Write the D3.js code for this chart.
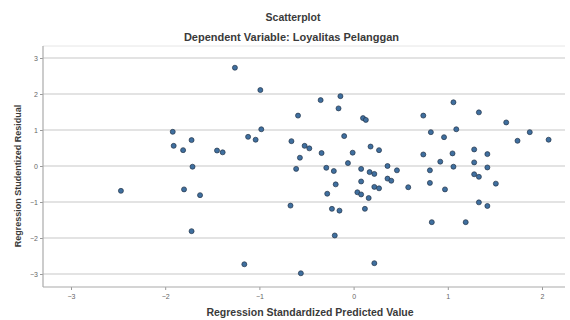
<!DOCTYPE html>
<html><head><meta charset="utf-8">
<script src="https://cdn.jsdelivr.net/npm/d3@7"></script>
<style>body{margin:0;background:#fff}svg{display:block}</style>
</head><body>
<svg id="c" width="570" height="320"></svg>
<script>
const title = "Scatterplot";
const subtitle = "Dependent Variable: Loyalitas Pelanggan";
const xLabel = "Regression Standardized Predicted Value";
const yLabel = "Regression Studentized Residual";
const xTicks = [-3, -2, -1, 0, 1, 2];
const yTicks = [-3, -2, -1, 0, 1, 2, 3];
const predicted = [-2.47,-1.92,-1.91,-1.72,-1.81,-1.71,-1.80,-1.63,-1.72,-1.45,-1.39,-1.26,-0.99,-0.98,-1.12,-1.04,-1.16,
 -0.59,-0.35,-0.14,-0.16,0.10,0.13,-0.10,-0.66,-0.52,-0.47,-0.34,0.18,0.27,-0.01,-0.57,-0.61,-0.29,-0.21,-0.06,0.08,0.17,0.22,0.36,0.46,
 -0.19,0.08,0.36,0.40,0.22,0.27,0.58,-0.28,0.04,0.08,0.16,-0.67,-0.23,-0.15,0.12,-0.20,-0.56,0.22,
 0.74,1.06,1.33,1.62,0.82,1.09,0.96,1.87,1.74,2.07,0.74,1.05,1.28,1.42,0.92,1.06,1.28,1.42,0.81,1.28,1.33,0.81,1.51,0.97,1.33,1.42,0.83,1.19];
const residual = [-0.69,0.95,0.56,0.72,0.44,-0.02,-0.65,-0.81,-1.81,0.43,0.38,2.73,2.11,1.02,0.81,0.73,-2.73,
 1.40,1.83,1.94,1.60,1.33,1.28,0.83,0.69,0.56,0.49,0.36,0.54,0.44,0.37,0.23,-0.08,-0.05,-0.14,0.08,-0.08,-0.17,-0.22,0.00,-0.12,
 -0.51,-0.43,-0.35,-0.41,-0.58,-0.62,-0.59,-0.77,-0.73,-0.79,-0.89,-1.10,-1.19,-1.24,-1.19,-1.93,-2.98,-2.70,
 1.40,1.77,1.49,1.21,0.94,1.02,0.80,0.94,0.70,0.73,0.32,0.35,0.46,0.33,0.12,-0.02,0.10,-0.04,-0.12,-0.23,-0.30,-0.47,-0.49,-0.65,-1.01,-1.11,-1.56,-1.56];

const svg = d3.select("#c");
const L = 43, R = 565, T = 46, B = 287;
const x = d3.scaleLinear().domain([-3, 2]).range([71, 542]);
const y = d3.scaleLinear().domain([-3, 3]).range([274, 58]);
const FF = "Arial, Liberation Sans, sans-serif";

svg.append("text").attr("x", 293).attr("y", 20.5).attr("text-anchor", "middle")
  .attr("font-family", FF).attr("font-size", 10.5).attr("font-weight", "bold")
  .attr("fill", "#3a3a3a").text(title);
svg.append("text").attr("x", 291.5).attr("y", 40.5).attr("text-anchor", "middle")
  .attr("font-family", FF).attr("font-size", 11).attr("font-weight", "bold")
  .attr("fill", "#3a3a3a").text(subtitle);

// plot frame top
svg.append("line").attr("x1", L).attr("x2", R).attr("y1", T).attr("y2", T).attr("stroke", "#e6e6e6").attr("stroke-width", 1);

// gridlines
svg.append("g").selectAll("line").data(yTicks).join("line")
  .attr("x1", L).attr("x2", R).attr("y1", d => y(d)).attr("y2", d => y(d))
  .attr("stroke", "#dadada").attr("stroke-width", 1.3);

// axes
const ya = svg.append("g").attr("transform", `translate(${L},0)`)
  .call(d3.axisLeft(y).tickValues(yTicks).tickSize(3).tickPadding(2).tickFormat(d3.format("d")));
const xa = svg.append("g").attr("transform", `translate(0,${B})`)
  .call(d3.axisBottom(x).tickValues(xTicks).tickSize(3).tickPadding(4).tickFormat(d3.format("d")));
[ya, xa].forEach(g => {
  g.select(".domain").remove();
  g.selectAll(".tick line").attr("stroke", "#999");
  g.selectAll(".tick text").attr("font-family", FF).attr("font-size", 7).attr("fill", "#666");
});
svg.append("line").attr("x1", L).attr("x2", L).attr("y1", T).attr("y2", B).attr("stroke", "#aaa").attr("stroke-width", 1.2);
svg.append("line").attr("x1", L).attr("x2", R).attr("y1", B).attr("y2", B).attr("stroke", "#aaa").attr("stroke-width", 1.2);

// points
svg.append("g").selectAll("circle").data(predicted.map((p, i) => [p, residual[i]])).join("circle")
  .attr("cx", d => x(d[0])).attr("cy", d => y(d[1])).attr("r", 2.5)
  .attr("fill", "#3f6f9f").attr("stroke", "#243447").attr("stroke-width", 0.7);

svg.append("text").attr("x", 310).attr("y", 316).attr("text-anchor", "middle")
  .attr("font-family", FF).attr("font-size", 10.5).attr("font-weight", "bold")
  .attr("fill", "#3a3a3a").text(xLabel);
svg.append("text").attr("transform", "translate(21,176) rotate(-90)").attr("text-anchor", "middle")
  .attr("font-family", FF).attr("font-size", 9).attr("font-weight", "bold")
  .attr("fill", "#3a3a3a").text(yLabel);
</script>
</body></html>
